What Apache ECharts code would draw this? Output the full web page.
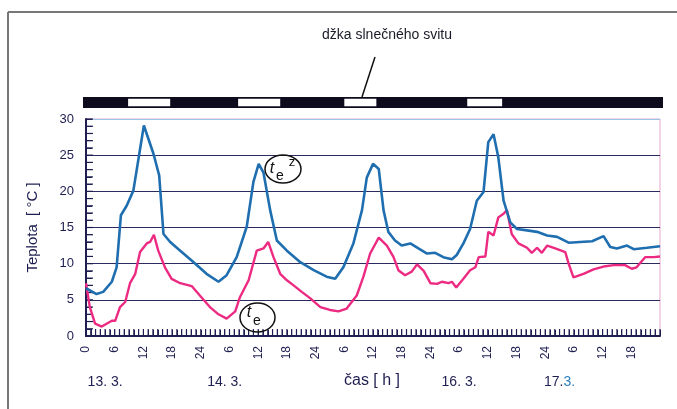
<!DOCTYPE html>
<html>
<head>
<meta charset="utf-8">
<script src="https://cdn.jsdelivr.net/npm/echarts@6/dist/echarts.min.js"></script>
<style>html,body{margin:0;padding:0;background:#fff;}#c{width:677px;height:409px;}</style>
</head>
<body>
<div id="c"></div>
<script>
// ---- data ----
const teZHours = [0,2.2,3.6,5.4,6.4,7.3,8.5,9.9,10.9,12.1,14.1,15.3,16.2,17.6,19.7,22.5,25.2,27.7,29.4,31.5,33.6,35.0,36.1,37.1,38.5,39.9,42.0,44.8,47.6,50.3,52.1,53.8,55.9,57.7,58.7,60.0,61.2,62.2,63.2,64.6,66.0,67.8,69.5,71.3,73.0,74.7,76.5,77.5,78.9,80.3,81.7,83.1,84.1,85.2,86.2,87.3,88.7,90.1,92.2,94.3,96.4,98.5,100.9,103.3,105.8,108.2,109.6,111.0,113.1,114.5,117.3,120];
const teZValues = [6.6,5.8,6.1,7.5,9.5,16.7,18.0,20.1,24.2,29.1,25.2,22.2,14.1,13.0,11.8,10.2,8.6,7.5,8.4,10.9,15.1,21.3,23.8,22.6,17.4,13.2,11.8,10.2,9.1,8.2,7.9,9.5,12.8,17.4,21.9,23.8,23.1,17.4,14.4,13.2,12.5,12.8,12.1,11.4,11.5,10.9,10.6,11.2,12.8,14.8,18.7,19.9,26.8,27.9,24.7,18.7,15.7,14.8,14.6,14.4,13.9,13.7,12.9,13.0,13.1,13.8,12.3,12.1,12.5,12.0,12.2,12.4];
const teHours = [0,0.8,1.9,3.3,4.3,5.4,6.1,7.1,8.2,9.2,10.3,11.3,12.7,13.4,14.2,15.1,16.5,17.9,19.7,22.1,23.8,25.9,27.7,29.4,31.2,32.2,34.0,35.7,37.1,38.1,39.2,40.6,42.0,43.4,45.1,46.9,49.0,51.0,52.8,54.5,56.6,58.0,59.4,61.2,62.9,64.3,65.3,66.7,68.1,69.2,70.6,72.0,73.4,74.4,75.8,76.5,77.4,78.9,80.3,81.4,82.1,83.5,84.1,85.2,86.2,87.3,88.0,89.0,90.4,92.2,93.2,94.3,95.3,96.4,98.1,100.2,100.9,101.9,104.0,106.1,108.2,110.3,112.7,114.1,115.1,116.9,118.7,120];
const teValues = [7.3,4.0,1.7,1.3,1.7,2.1,2.1,4.0,4.7,7.3,8.6,11.6,12.8,13.0,14.0,11.8,9.5,7.9,7.3,6.9,5.6,4.0,3.0,2.4,3.4,5.4,7.7,11.8,12.1,13.0,10.9,8.6,7.7,7.0,6.1,5.2,4.0,3.6,3.4,3.8,5.6,8.2,11.4,13.6,12.5,10.9,9.1,8.4,8.9,9.9,9.0,7.3,7.2,7.5,7.3,7.5,6.7,7.9,9.1,9.5,10.9,11.0,14.4,13.9,16.4,16.9,17.4,14.1,12.8,12.2,11.5,12.2,11.5,12.5,12.1,11.6,10.0,8.1,8.6,9.2,9.6,9.8,9.8,9.3,9.5,10.9,10.9,11.0];
// sunshine intervals (hours from start) = white gaps in the top bar
const sunStart = [8.8,31.8,54.0,79.7];
const sunEnd   = [17.6,40.6,60.7,87.0];
const dayLabels = ['13. 3.','14. 3.','16. 3.','17.3.'];
const dayLabelHours = [4,29,78,99];
// tick positions (hourly on x, every degree on y)
const xTickHours = Array.from({length:121},(_,i)=>i);
const yTickDegrees = Array.from({length:30},(_,i)=>i+1);

const FONT = "'Liberation Sans Narrow','Liberation Sans',Arial,sans-serif";
const NAVY = '#1e1e50';

const chart = echarts.init(document.getElementById('c'));
const sunData = sunStart.map((s,i)=>[s,sunEnd[i]]);

chart.setOption({
  animation:false,
  backgroundColor:'#fff',
  grid:[
    {left:86,right:17,top:119,bottom:73,show:true,borderColor:'#e4a9cf',borderWidth:1},
    {left:83,right:14,top:97,height:11}
  ],
  xAxis:[
    {gridIndex:0,type:'value',min:0,max:120,interval:6,
     axisLine:{show:true,lineStyle:{color:NAVY,width:2}},
     axisTick:{show:true,inside:true,length:6,lineStyle:{color:NAVY,width:1}},
     minorTick:{show:true,splitNumber:6,length:6,lineStyle:{color:NAVY,width:1}},
     splitLine:{show:false},
     axisLabel:{show:true,rotate:90,margin:10,color:NAVY,fontFamily:FONT,fontSize:12,
       formatter:v=>{ if(v===0) return '0'; if(v>=120) return ''; const m=v%24; return m===0?'24':String(m);} }},
    {gridIndex:1,type:'value',min:-0.63,max:120.63,show:false}
  ],
  yAxis:[
    {gridIndex:0,type:'value',min:0,max:30,interval:5,
     name:'Teplota  [ \u00B0C ]',nameLocation:'middle',nameGap:46,
     nameTextStyle:{color:NAVY,fontFamily:"'Liberation Sans',Arial,sans-serif",fontSize:15},
     axisLine:{show:true,lineStyle:{color:NAVY,width:2}},
     axisTick:{show:true,inside:true,length:6,lineStyle:{color:NAVY,width:1}},
     minorTick:{show:true,splitNumber:5,length:6,lineStyle:{color:NAVY,width:1}},
     splitLine:{show:true,lineStyle:{color:['#2b2b60','#2b2b60','#2b2b60','#2b2b60','#2b2b60','#2b2b60','#9cc4e4'],width:1}},
     axisLabel:{color:NAVY,fontFamily:FONT,fontSize:13,margin:12}},
    {gridIndex:1,type:'value',min:0,max:1,show:false}
  ],
  series:[
    {type:'custom',xAxisIndex:1,yAxisIndex:1,silent:true,
     data:[[-0.63,120.63]],
     renderItem:(p,api)=>{
       const a=api.coord([api.value(0),1]), b=api.coord([api.value(1),0]);
       return {type:'rect',shape:{x:a[0],y:a[1],width:b[0]-a[0],height:b[1]-a[1]},style:{fill:'#0e0c1c'}};
     }},
    {type:'custom',xAxisIndex:1,yAxisIndex:1,silent:true,
     data:sunData,
     renderItem:(p,api)=>{
       const a=api.coord([api.value(0),0.85]), b=api.coord([api.value(1),0.15]);
       return {type:'rect',shape:{x:a[0],y:a[1],width:b[0]-a[0],height:b[1]-a[1]},style:{fill:'#ffffff'}};
     }},
    {name:'te^z',type:'line',xAxisIndex:0,yAxisIndex:0,showSymbol:false,
     data:teZHours.map((h,i)=>[h,teZValues[i]]),
     lineStyle:{color:'#1f6eaf',width:2.6},itemStyle:{color:'#1f6eaf'},z:5},
    {name:'te',type:'line',xAxisIndex:0,yAxisIndex:0,showSymbol:false,
     data:teHours.map((h,i)=>[h,teValues[i]]),
     lineStyle:{color:'#ec2a82',width:2.4},itemStyle:{color:'#ec2a82'},z:4}
  ]
});

// annotations
const g = [];
// inside ticks as thin rects, positioned through the axis scales
const x0px = Number(chart.convertToPixel({xAxisIndex:0},0));
const y0px = Number(chart.convertToPixel({yAxisIndex:0},0));
xTickHours.forEach(h=>{
  const px = Number(chart.convertToPixel({xAxisIndex:0},h));
  g.push({type:'rect',shape:{x:px-0.6,y:y0px-7,width:1.2,height:7},style:{fill:NAVY}});
});
yTickDegrees.forEach(d=>{
  const py = Number(chart.convertToPixel({yAxisIndex:0},d));
  g.push({type:'rect',shape:{x:x0px,y:py-0.6,width:7,height:1.2},style:{fill:NAVY}});
});
// outer frame (top & left)
g.push({type:'line',shape:{x1:8,y1:12,x2:677,y2:12},style:{stroke:'#777',lineWidth:2}});
g.push({type:'line',shape:{x1:8,y1:12,x2:8,y2:409},style:{stroke:'#777',lineWidth:2}});
// sunshine label
g.push({type:'text',style:{text:'džka slnečného svitu',x:387,y:35,textAlign:'center',textVerticalAlign:'middle',fill:'#1a1a2a',font:"14px 'Liberation Sans',Arial,sans-serif"}});
g.push({type:'line',shape:{x1:375,y1:57,x2:362,y2:97},style:{stroke:'#111',lineWidth:1.5}});
// ellipse labels
g.push({type:'ellipse',shape:{cx:283,cy:169,rx:18,ry:14},style:{fill:'rgba(255,255,255,0)',stroke:'#111',lineWidth:1.5},z:10});
g.push({type:'text',style:{text:'t',x:272,y:169,textAlign:'center',textVerticalAlign:'middle',fill:'#111',font:"italic 16px 'Liberation Sans',Arial,sans-serif"},z:11});
g.push({type:'text',style:{text:'e',x:280,y:176,textAlign:'center',textVerticalAlign:'middle',fill:'#111',font:"14px 'Liberation Sans',Arial,sans-serif"},z:11});
g.push({type:'text',style:{text:'z',x:292,y:162,textAlign:'center',textVerticalAlign:'middle',fill:'#111',font:"13px 'Liberation Sans',Arial,sans-serif"},z:11});
g.push({type:'ellipse',shape:{cx:257.5,cy:317.5,rx:17.5,ry:14.5},style:{fill:'rgba(255,255,255,0)',stroke:'#111',lineWidth:1.5},z:10});
g.push({type:'text',style:{text:'t',x:249,y:313,textAlign:'center',textVerticalAlign:'middle',fill:'#111',font:"italic 16px 'Liberation Sans',Arial,sans-serif"},z:11});
g.push({type:'text',style:{text:'e',x:257,y:321,textAlign:'center',textVerticalAlign:'middle',fill:'#111',font:"14px 'Liberation Sans',Arial,sans-serif"},z:11});
// day labels
dayLabels.forEach((t,i)=>{
  const px = Number(chart.convertToPixel({xAxisIndex:0},dayLabelHours[i]));
  if(t==='17.3.'){
    g.push({type:'text',style:{text:'{a|17.}{b|3.}',x:px,y:382,textAlign:'center',textVerticalAlign:'middle',
      rich:{a:{fill:NAVY,font:"14px "+FONT},b:{fill:'#2a7fc0',font:"14px "+FONT}}}});
  } else {
    g.push({type:'text',style:{text:t,x:px,y:382,textAlign:'center',textVerticalAlign:'middle',fill:NAVY,font:"14px "+FONT}});
  }
});
g.push({type:'text',style:{text:'čas [ h ]',x:372,y:381,textAlign:'center',textVerticalAlign:'middle',fill:NAVY,font:"16px 'Liberation Sans',Arial,sans-serif"}});
chart.setOption({graphic:g});
</script>
</body>
</html>
